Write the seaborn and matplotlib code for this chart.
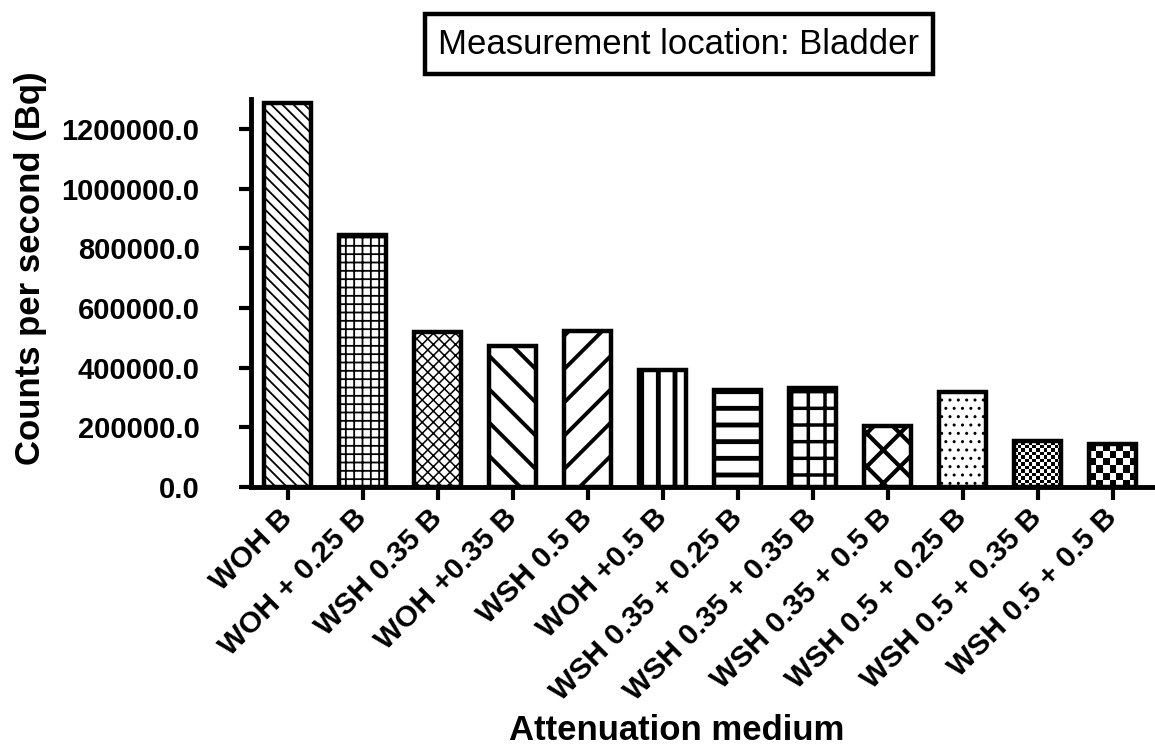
import numpy as np
import pandas as pd
import matplotlib
matplotlib.use("Agg")
import matplotlib.pyplot as plt
import seaborn as sns

# ─────────────────────────────────────────────
# Data
# ─────────────────────────────────────────────

categories = [
    "WOH B", "WOH + 0.25 B", "WSH 0.35 B", "WOH +0.35 B", "WSH 0.5 B",
    "WOH +0.5 B", "WSH 0.35 + 0.25 B", "WSH 0.35 + 0.35 B",
    "WSH 0.35 + 0.5 B", "WSH 0.5 + 0.25 B", "WSH 0.5 + 0.35 B",
    "WSH 0.5 + 0.5 B",
]
counts = [
    1288000, 846000, 518000, 472000, 522000, 391000,
    324000, 331000, 204000, 318000, 154000, 144000,
]
y_ticks = [0, 200000, 400000, 600000, 800000, 1000000, 1200000]

# fill style per bar: (hatch, hatch linewidth) or checkerboard cell size in px
hatches = [
    ("\\\\\\", 1.3), ("++", 1.3), ("xxx", 1.1), ("\\", 2.8), ("/", 2.8),
    ("|", 3.5), ("-", 3.5), ("+", 2.5), ("x", 3.0), ("..", 1.0),
    ("checker", 3.5), ("checker", 7.0),
]

df = pd.DataFrame({"medium": categories, "cps": counts})

sns.set_style("ticks", {"axes.edgecolor": "black", "xtick.color": "black",
                        "ytick.color": "black", "text.color": "black",
                        "axes.labelcolor": "black"})
plt.rcParams["font.family"] = ["Liberation Sans", "DejaVu Sans"]
plt.rcParams["font.weight"] = "bold"

DPI = 100
fig = plt.figure(figsize=(11.55, 7.51), dpi=DPI)
ax = fig.add_axes([251 / 1155, 1 - 487 / 751, 905 / 1155, 388 / 751])

sns.barplot(
    data=df, x="medium", y="cps", color="white", edgecolor="black",
    linewidth=3.2, width=0.63, saturation=1, ax=ax,
)

for bar, (pattern, lw) in zip(ax.patches, hatches):
    bar.set_facecolor("white")
    if pattern == "checker":
        # checkerboard texture clipped to the bar
        x0, w, h = bar.get_x(), bar.get_width(), bar.get_height()
        px_w = w * 905 / 12.07
        px_h = h * 388 / 1.3e6
        nx = max(int(round(px_w / lw)), 2)
        ny = max(int(round(px_h / lw)), 2)
        ii, jj = np.indices((ny, nx))
        board = (ii + jj) % 2
        bar.set_facecolor("none")
        im = ax.imshow(board, cmap="gray", extent=(x0, x0 + w, 0, h),
                       aspect="auto", interpolation="nearest", zorder=0.8)
        im.set_clip_path(bar)
    else:
        bar.set_hatch(pattern)
        if hasattr(bar, "set_hatch_linewidth"):
            bar.set_hatch_linewidth(lw)

ax.set_xlim(-0.49, 11.58)
ax.set_ylim(0, 1300000)
ax.set_yticks(y_ticks)
ax.set_yticklabels([f"{v:.1f}" for v in y_ticks], fontsize=21, fontweight="bold")
ax.set_xticks(range(len(categories)))
ax.set_xticklabels(categories, rotation=45, ha="right", va="center",
                   rotation_mode="anchor", fontsize=21.5, fontweight="bold")

ax.tick_params(axis="both", width=3, length=9, direction="out")
ax.tick_params(axis="x", pad=10)
ax.tick_params(axis="y", pad=28)
for side in ["left", "bottom"]:
    ax.spines[side].set_linewidth(3.5)
sns.despine(ax=ax)

ax.set_xlabel("")
ax.set_ylabel("Counts per second (Bq)", fontsize=25, fontweight="bold")
ax.yaxis.set_label_coords((47 - 251) / 905, (487 - 268) / 388)
fig.text(677 / 1155, 1 - 730 / 751, "Attenuation medium", fontsize=25,
         fontweight="bold", ha="center", va="center")

fig.text(679 / 1155, 1 - 44 / 751, "Measurement location: Bladder",
         fontsize=25, fontweight="normal", ha="center", va="center",
         bbox=dict(boxstyle="square,pad=0.38", facecolor="white",
                   edgecolor="black", linewidth=3.2))

fig.savefig("out.png", dpi=DPI)
